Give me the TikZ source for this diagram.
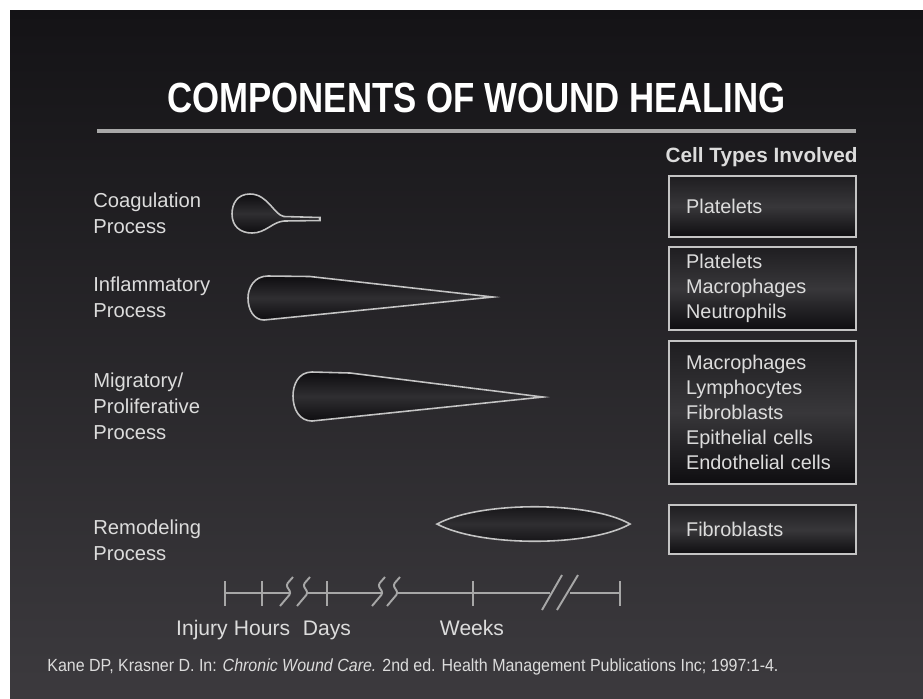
\documentclass[tikz,border=0pt]{standalone}
\usepackage{fontspec}
\setmainfont{Liberation Sans}
\newfontfamily\titlefont[FakeStretch=0.825]{Liberation Sans}
\newfontfamily\citefont[FakeStretch=0.91]{Liberation Sans}
\usepackage{tikz}
\usetikzlibrary{positioning, calc}
\definecolor{slidetop}{HTML}{141316}
\definecolor{slidebot}{HTML}{3C3A3E}
\definecolor{inktext}{HTML}{DCDCDC}
\definecolor{inkline}{HTML}{C4C4C4}
\definecolor{rulegray}{HTML}{A8A8A8}
\definecolor{cellmid}{HTML}{38373A}
\definecolor{celledge}{HTML}{0E0D10}

\begin{document}
\begin{tikzpicture}[
    x=0.02cm, y=-0.02cm,
    font=\fontsize{11.5}{14.8}\selectfont,
    every node/.append style={text=inktext},
    label/.style={anchor=west, align=left, inner sep=0pt},
    cellbox/.style={anchor=north west, draw=inkline, line width=1.3pt,
        top color=celledge!60!cellmid, bottom color=celledge, middle color=cellmid,
        text width=3.06cm, inner xsep=0.34cm, inner ysep=0pt, align=left,
        minimum height=#1, font=\fontsize{11.3}{14.2}\selectfont},
    blob/.style={draw=inkline, line width=0.9pt,
        top color=celledge, bottom color=celledge, middle color=cellmid!80!celledge},
    axis/.style={draw=inkline!85!black, line width=1.1pt},
    ticklab/.style={anchor=base, inner sep=0pt, font=\fontsize{12}{14}\selectfont},
]
    % slide background
    \fill[white] (0,0) rectangle (923,698);
    \fill[top color=slidetop, bottom color=slidebot] (10,10) rectangle (923,698);
    \useasboundingbox (0,0) rectangle (923,698);

    \node[font=\titlefont\bfseries\fontsize{24}{28}\selectfont, text=white] (title) at (476.5,98) {COMPONENTS OF WOUND HEALING};
    \draw[rulegray, line width=2.3pt] (97,131) -- (856,131);

    % processes
    \node[label] (coag) at (93,213) {Coagulation\\Process};
    \node[label] (infl) at (93,297) {Inflammatory\\Process};
    \node[label] (migr) at (93,406) {Migratory/\\Proliferative\\Process};
    \node[label] (remo) at (93,540) {Remodeling\\Process};

    \draw[blob] (320,217.5) -- (284,216.5) .. controls (274,215) and (268,194) .. (250,194)
        .. controls (237,194) and (232,204) .. (232,214) .. controls (232,226) and (240,233) .. (252,233)
        .. controls (266,233) and (272,222) .. (284,221) -- (320,220.5) -- cycle;
    \draw[blob] (493,297) -- (310,276.5) -- (268,276) .. controls (254,276) and (248,288) .. (248,298)
        .. controls (248,310) and (254,320) .. (264,320) -- cycle;
    \draw[blob] (543,397) -- (350,373) -- (312,372) .. controls (298,372) and (293,385) .. (293,396)
        .. controls (293,410) and (300,421) .. (312,421) -- cycle;
    \draw[blob] (437,524) .. controls (480,501) and (590,501) .. (630,524)
        .. controls (590,547) and (480,547) .. (437,524) -- cycle;

    % cells
    \node[font=\bfseries\fontsize{11.8}{14}\selectfont, anchor=east, inner sep=0pt] (cellhead) at (858,157) {Cell Types Involved};
    \node[cellbox=1.22cm] (coagcells) at (668,175) {Platelets};
    \node[cellbox=1.66cm] (inflcells) at (668,246) {Platelets\\Macrophages\\Neutrophils};
    \node[cellbox=2.86cm] (migrcells) at (668,340) {Macrophages\\Lymphocytes\\Fibroblasts\\Epithelial cells\\Endothelial cells};
    \node[cellbox=0.98cm] (remocells) at (668,504) {Fibroblasts};

    % time axis
    \coordinate (injury) at (225,593);
    \coordinate (hours) at (262,593);
    \coordinate (days) at (327,593);
    \coordinate (weeks) at (473,593);
    \coordinate (tend) at (620,593);
    \draw[axis] (injury) -- (291,593);
    \draw[axis] (308,593) -- (383,593);
    \draw[axis] (398,593) -- (550,593);
    \draw[axis] (570,593) -- (tend);
    \foreach \t in {injury,hours,days,weeks,tend}
        \draw[axis] ($(\t)+(0,-12)$) -- ($(\t)+(0,13)$);
    \foreach \s in {280,297,372,387}
        \draw[axis, rounded corners=1.5pt] (\s,606) -- (\s+11,593) -- (\s+6,585) -- (\s+13,577);
    \draw[axis] (542,610) -- (562,575);
    \draw[axis] (557,610) -- (578,575);

    \node[ticklab] (injurylab) at (202,635) {Injury};
    \node[ticklab] (hourslab) at (262,635) {Hours};
    \node[ticklab] (dayslab) at (327,635) {Days};
    \node[ticklab] (weekslab) at (472,635) {Weeks};

    \node[font=\citefont\fontsize{10}{12}\selectfont, anchor=west, inner sep=0pt] (cite) at (47,667)
        {Kane DP, Krasner D. In: \textit{Chronic Wound Care.} 2nd ed. Health Management Publications Inc; 1997:1-4.};
\end{tikzpicture}
\end{document}
